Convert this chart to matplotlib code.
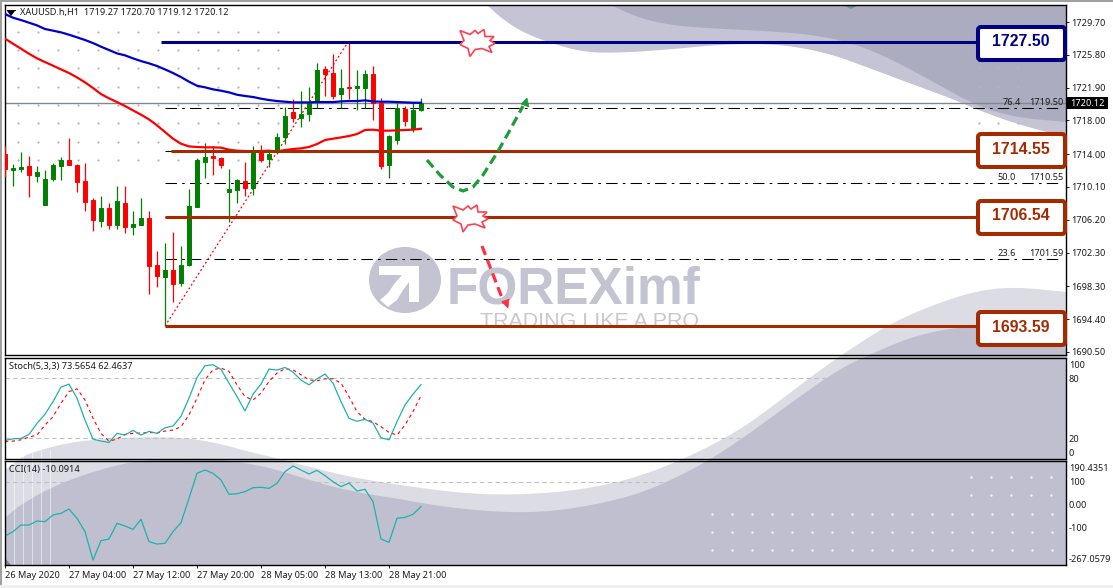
import numpy as np
import matplotlib
matplotlib.use("Agg")
import matplotlib.pyplot as plt
from matplotlib.patches import Rectangle, Ellipse, Polygon, FancyBboxPatch

plt.rcParams['font.family'] = ['Noto Sans', 'DejaVu Sans']

# H1 candles, one value per bar
opens = [1714.02, 1712.11, 1712.23, 1712.59, 1711.40, 1708.00, 1711.00, 1712.59, 1713.30, 1712.67,
         1710.77, 1708.55, 1706.09, 1707.60, 1705.62, 1708.15, 1705.38, 1705.62, 1706.37, 1700.79,
         1699.44, 1700.23, 1698.73, 1700.83, 1707.76, 1713.10, 1713.78, 1713.54, 1709.54, 1709.74,
         1710.77, 1710.01, 1714.09, 1713.46, 1714.41, 1716.07, 1719.00, 1718.33, 1718.77, 1720.19,
         1724.07, 1723.64, 1721.14, 1721.94, 1721.86, 1721.86, 1723.52, 1720.03, 1712.71, 1715.68,
         1719.36, 1717.01, 1719.27]
highs = [1714.96, 1712.83, 1714.21, 1713.78, 1712.59, 1712.11, 1712.91, 1713.62, 1715.92, 1712.83,
         1712.95, 1708.75, 1709.02, 1708.15, 1710.21, 1710.21, 1707.24, 1708.75, 1707.24, 1702.49,
         1703.40, 1704.75, 1703.08, 1709.82, 1713.50, 1715.28, 1714.96, 1713.70, 1712.19, 1711.00,
         1713.02, 1714.96, 1715.08, 1714.49, 1716.55, 1719.56, 1720.51, 1721.50, 1721.97, 1724.86,
         1724.47, 1725.90, 1724.07, 1727.50, 1723.99, 1723.99, 1724.47, 1720.63, 1716.27, 1720.03,
         1719.72, 1720.03, 1720.70]
lows = [1711.32, 1710.21, 1711.92, 1708.95, 1710.69, 1708.00, 1710.85, 1710.93, 1712.75, 1709.50,
        1707.24, 1704.91, 1705.30, 1705.14, 1705.14, 1704.67, 1704.43, 1705.62, 1697.38, 1698.25,
        1693.59, 1696.47, 1698.33, 1700.75, 1707.76, 1711.20, 1711.52, 1712.31, 1705.98, 1708.23,
        1709.07, 1709.18, 1713.02, 1712.51, 1714.02, 1715.20, 1717.82, 1717.26, 1717.94, 1719.44,
        1720.91, 1720.55, 1719.44, 1720.55, 1719.24, 1719.44, 1718.05, 1712.27, 1711.16, 1715.20,
        1717.34, 1716.67, 1719.12]
closes = [1712.27, 1712.35, 1712.47, 1711.56, 1711.87, 1711.00, 1712.67, 1713.30, 1712.75, 1710.69,
          1708.35, 1706.17, 1707.60, 1705.62, 1708.39, 1705.38, 1705.70, 1706.37, 1700.75, 1699.56,
          1700.23, 1698.61, 1700.79, 1707.84, 1713.30, 1713.62, 1713.58, 1712.71, 1709.82, 1710.93,
          1710.01, 1714.09, 1713.30, 1714.02, 1716.07, 1718.53, 1718.29, 1718.77, 1720.03, 1724.03,
          1723.52, 1720.91, 1721.86, 1721.90, 1722.09, 1723.52, 1720.03, 1712.63, 1716.15, 1719.48,
          1717.94, 1719.24, 1720.12]

ma_blue = [1730.65, 1730.21, 1729.93, 1729.62, 1729.30, 1728.87, 1728.67, 1728.47, 1728.19, 1727.88,
           1727.56, 1727.20, 1726.77, 1726.37, 1725.97, 1725.74, 1725.38, 1725.06, 1724.79, 1724.47,
           1724.07, 1723.64, 1723.16, 1722.61, 1722.13, 1721.94, 1721.70, 1721.54, 1721.34, 1721.06,
           1720.91, 1720.79, 1720.59, 1720.43, 1720.31, 1720.23, 1720.15, 1720.15, 1720.15, 1720.19,
           1720.19, 1720.19, 1720.27, 1720.31, 1720.31, 1720.39, 1720.27, 1720.23, 1720.23, 1720.19,
           1720.15, 1720.11, 1720.11]
ma_red = [1727.72, 1727.12, 1726.53, 1725.93, 1725.38, 1724.94, 1724.51, 1724.07, 1723.64, 1723.12,
          1722.53, 1721.86, 1721.14, 1720.63, 1720.19, 1719.72, 1719.20, 1718.69, 1718.13, 1717.42,
          1716.63, 1715.84, 1715.24, 1714.92, 1714.85, 1714.81, 1714.81, 1714.77, 1714.53, 1714.41,
          1714.37, 1714.33, 1714.37, 1714.41, 1714.33, 1714.49, 1714.61, 1714.69, 1714.85, 1715.20,
          1715.68, 1715.84, 1715.99, 1716.15, 1716.39, 1716.87, 1716.91, 1716.79, 1716.79, 1716.83,
          1716.87, 1716.91, 1717.02]

stoch_main = [18.0, 19.6, 20.0, 24.0, 35.0, 44.0, 56.6, 71.0, 74.0, 60.0, 38.3, 19.3, 17.3, 16.0, 25.0,
              23.3, 28.0, 23.3, 27.0, 25.0, 30.6, 32.3, 42.0, 60.0, 80.6, 92.3, 93.3, 88.6, 75.0, 61.6,
              47.3, 64.0, 74.0, 89.0, 88.0, 90.6, 86.0, 78.0, 73.3, 79.3, 84.0, 75.0, 56.6, 40.0, 37.0,
              39.0, 35.3, 20.6, 18.6, 36.6, 53.3, 64.0, 73.57]
stoch_signal = [17.0, 17.3, 18.6, 21.3, 23.3, 33.3, 41.6, 55.0, 66.6, 69.3, 58.3, 40.0, 25.0, 17.3, 19.3,
                24.0, 25.0, 25.3, 26.0, 25.3, 27.3, 28.3, 31.6, 43.3, 60.0, 78.3, 88.3, 90.0, 86.6, 73.3,
                61.6, 58.3, 65.0, 76.6, 85.0, 89.3, 88.3, 83.3, 78.3, 77.3, 79.3, 79.3, 75.0, 61.6, 46.6,
                39.0, 36.6, 31.6, 26.0, 23.3, 33.3, 46.6, 62.46]
cci = [-139.5, -120.4, -91.1, -91.1, -73.5, -76.5, -47.1, -39.8, -20.7, -61.8, -120.4, -245.1, -160.0,
       -152.7, -83.8, -95.5, -110.2, -66.2, -164.4, -174.7, -171.8, -120.4, -80.9, 26.2, 136.2, 150.9,
       136.2, 106.9, 43.8, 46.7, 55.5, 73.1, 74.6, 70.2, 92.2, 143.5, 168.4, 150.9, 133.3, 149.4, 125.9,
       99.5, 77.5, 93.7, 58.5, 65.8, 11.5, -152.7, -167.4, -61.8, -57.4, -44.2, -10.09]

tick_bars = [0, 8, 16, 24, 32, 40, 48]
tick_labels = ['26 May 2020', '27 May 04:00', '27 May 12:00', '27 May 20:00',
               '28 May 05:00', '28 May 13:00', '28 May 21:00']
price_ticks = [1729.70, 1725.80, 1721.90, 1718.00, 1714.00, 1710.10, 1706.20, 1702.30, 1698.30, 1694.40, 1690.50]

level_values = [1727.29, 1714.37, 1706.52, 1693.59]
level_labels = ['1727.50', '1714.55', '1706.54', '1693.59']
fibo_values = [1719.44, 1714.37, 1710.53, 1706.52, 1701.50]
fibo_pct = ['76.4', '50.0', '23.6']
fibo_prices = ['1719.50', '1710.55', '1701.59']
last_price = 1720.12

stoch_tick_pos = [94, 80, 20, 6]
stoch_tick_labels = ['100', '80', '20', '0']
cci_tick_pos = [161, 100, 0, -100, -240]
cci_tick_labels = ['190.4351', '100', '0.00', '-100', '-267.0579']

W, H = 1113, 588
NAVY = '#000080'
BROWN = '#a52a00'
TXT = '#1a1a1a'
FS = 6.6


def px_axes(left, top, right, bottom, **kw):
    return fig.add_axes([left / W, 1 - bottom / H, (right - left) / W, (bottom - top) / H], **kw)


def rounded(pts, rounds=3):
    # cut corners so the swoosh edges do not look like polylines
    pts = np.array(pts, dtype=float)
    for _ in range(rounds):
        q = 0.75 * pts[:-1] + 0.25 * pts[1:]
        r = 0.25 * pts[:-1] + 0.75 * pts[1:]
        mid = np.empty((2 * len(q), 2))
        mid[0::2] = q
        mid[1::2] = r
        pts = np.vstack([pts[0], mid, pts[-1]])
    return [tuple(p) for p in pts]


fig = plt.figure(figsize=(W / 100, H / 100), dpi=100, facecolor='white')

# background swooshes and logo, in pixels
bg = px_axes(0, 0, W, H, zorder=0)
bg.set_xlim(0, W)
bg.set_ylim(H, 0)
bg.axis('off')
clip = Rectangle((5, 5), 1061, 560, transform=bg.transData)

light_edge = [(5, 470), (20, 458), (33, 452), (67, 443), (100, 439), (150, 437), (187, 438), (217, 443),
              (250, 452), (280, 459), (333, 473), (367, 480), (420, 488), (462, 493), (504, 495), (567, 492),
              (630, 480), (689, 457), (740, 430), (778, 402), (820, 370), (849, 350), (891, 323), (938, 303),
              (980, 290), (1018, 287), (1066, 292)]
dark_edge = [(5, 518), (20, 505), (50, 488), (83, 475), (117, 465), (140, 461), (200, 458), (233, 461),
             (267, 467), (300, 477), (333, 487), (367, 494), (400, 499), (420, 503), (462, 509), (517, 513),
             (567, 510), (630, 497), (672, 480), (715, 457), (757, 428), (799, 397), (841, 368), (875, 352),
             (917, 335), (959, 327), (1009, 325), (1066, 327)]
top_mid = [(485, 3), (501, 18), (522, 32), (550, 43), (583, 52), (615, 53), (664, 50), (726, 44), (779, 44),
           (828, 53), (869, 68), (909, 83), (950, 98), (983, 112), (1020, 125), (1066, 137)]
top_dark = [(607, 3), (636, 17), (669, 25), (705, 28), (767, 31), (815, 35), (852, 43), (889, 58), (930, 80),
            (971, 103), (1011, 117), (1066, 122)]
bottom = [(1066, 565), (5, 565)]
corner = [(1066, 3)]
for pts, col in [(rounded(light_edge) + bottom, '#dcdce5'), (rounded(dark_edge) + bottom, '#bfbfcf'),
                 (rounded(top_mid) + corner, '#c4c4d4'), (rounded(top_dark) + corner, '#acacc0')]:
    p = Polygon(pts, closed=True, fc=col, ec='none')
    bg.add_patch(p)
    p.set_clip_path(clip)
bg.add_patch(Polygon([(843, 5), (851, 9), (859, 5)], fc='#7a8f99', ec='none'))
bg.add_patch(Polygon([(5, 558), (5, 565), (11, 565)], fc='#7f8590', ec='none'))

# window frame
bg.add_patch(Rectangle((0, 0), W, 1.5, fc='#a0a0a0', ec='none'))
bg.add_patch(Rectangle((0, 0), 1.5, H, fc='#a0a0a0', ec='none'))
bg.add_patch(Rectangle((0, 585), W, 3, fc='#f0f0f0', ec='none'))

# grid of small dots from the template
dot_x = [18 + 20 * k for k in range(14)] + [979, 998, 1018]
dot_y = [32, 50, 68, 87, 105, 123, 142, 160]
xx, yy = np.meshgrid(dot_x, dot_y)
bg.scatter(xx.ravel(), yy.ravel(), s=2.5, c='#b4b4bc', linewidths=0)
xx, yy = np.meshgrid([712 + 20 * k for k in range(18)], [514, 532, 550])
bg.scatter(xx.ravel(), yy.ravel(), s=3, c='#f4f4f8', linewidths=0)
xx, yy = np.meshgrid([971, 991, 1011, 1031, 1051], [477, 495])
bg.scatter(xx.ravel(), yy.ravel(), s=3, c='#f4f4f8', linewidths=0)
bg.vlines([14, 23, 32, 41, 50], 450, 565, colors='white', lw=0.72, alpha=0.5)

# watermark
LOGO = '#c3c3d2'
bg.add_patch(Ellipse((405, 280), 72, 66, fc=LOGO, ec='none'))
bg.add_patch(Polygon([(379, 266), (419, 266), (419, 302), (409, 302), (409, 282), (403, 290), (397, 300),
                      (388, 307), (380, 300), (388, 293), (395, 283), (402, 275), (379, 275)],
                     fc='white', ec='none'))
bg.text(447, 303, 'FOREXimf', family='Liberation Sans', weight='bold', fontsize=37, color=LOGO, va='baseline')
bg.text(480, 327, 'TRADING LIKE A PRO', family='Liberation Sans', fontsize=15.4, color='#c8c8d4', va='baseline')

# price panel
ax = px_axes(5, 5, 1066, 355, zorder=1)
ax.patch.set_alpha(0)
ax.set_xlim(0, 132.625)
ax.set_ylim(1690.14, 1731.72)
bars = np.arange(len(closes))
colors = ['#008000' if c >= o else '#ff0000' for o, c in zip(opens, closes)]
ax.axhline(last_price, color='#808890', lw=1.0, zorder=1)
ax.hlines(fibo_values, 20, 132, colors='black', lw=0.75, linestyles=(0, (11, 5, 2.5, 5)), zorder=1.5)
ax.plot([20, 43], [1693.59, 1727.50], color='#ff0000', lw=0.9, ls=(0, (1.5, 2)), zorder=2)
ax.vlines(bars, lows, highs, colors=colors, lw=0.9, zorder=3)
ax.bar(bars, np.array(closes) - np.array(opens), bottom=opens, width=0.55,
       color=colors, edgecolor=colors, lw=0.7, zorder=3)
ax.plot(bars, ma_blue, color='#0000cd', lw=1.6, zorder=4)
ax.plot(bars, ma_red, color='#ff0000', lw=1.6, zorder=4)
ax.hlines(level_values[0], 19.5, 132, colors=NAVY, lw=2.2, zorder=5)
ax.hlines(level_values[1:], [20.75, 20, 20], 132, colors=BROWN, lw=2.2, zorder=5)
ax.set_yticks(price_ticks, [f'{v:.2f}' for v in price_ticks])
ax.set_xticks([])
ax.yaxis.tick_right()
for i, (pct, lab) in enumerate(zip(fibo_pct, fibo_prices)):
    y = fibo_values[[0, 2, 4][i]]
    ax.annotate(pct, (1021 if i == 0 else 1016, y), xycoords=('figure pixels', 'data'), ha='right', va='bottom',
                fontsize=FS, color=TXT, xytext=(0, 1), textcoords='offset points', zorder=6)
    ax.annotate(lab, (1063, y), xycoords=('figure pixels', 'data'), ha='right', va='bottom',
                fontsize=FS, color=TXT, xytext=(0, 1), textcoords='offset points', zorder=6)

# stochastic panel
ax2 = px_axes(5, 358, 1066, 458.5, zorder=1)
ax2.patch.set_alpha(0)
ax2.set_xlim(0, 132.625)
ax2.set_ylim(0, 100)
ax2.hlines([80, 20], 0, 132.625, colors='#c0c0c0', lw=0.8, linestyles=(0, (4, 3)))
ax2.plot(bars, stoch_signal, color='#ff0000', lw=0.8, ls=(0, (3, 3)))
ax2.plot(bars, stoch_main, color='#20b2aa', lw=0.9)
ax2.set_yticks(stoch_tick_pos, stoch_tick_labels)
ax2.set_xticks([])
ax2.yaxis.tick_right()

# CCI panel
ax3 = px_axes(5, 461, 1066, 565, zorder=1)
ax3.patch.set_alpha(0)
ax3.set_xlim(0, 132.625)
ax3.set_ylim(-267.0579, 190.4351)
ax3.hlines(100, 0, 132.625, colors='#c0c0c0', lw=0.8, linestyles=(0, (4, 3)))
ax3.plot(bars, cci, color='#20b2aa', lw=0.9)
ax3.set_yticks(cci_tick_pos, cci_tick_labels)
ax3.yaxis.tick_right()
ax3.set_xticks(tick_bars, tick_labels)
for lbl in ax3.get_xticklabels():
    lbl.set_ha('left')

for a in (ax, ax2, ax3):
    for s in a.spines.values():
        s.set_linewidth(1.0)
        s.set_color('black')
    a.tick_params(axis='both', labelsize=FS, length=2.2, width=0.7, pad=1.8, colors=TXT)
ax2.tick_params(axis='y', length=0, pad=2)
ax3.tick_params(axis='y', length=0, pad=2)

# overlay: boxes, arrows, stars, captions
ov = px_axes(0, 0, W, H, zorder=3)
ov.patch.set_alpha(0)
ov.set_xlim(0, W)
ov.set_ylim(H, 0)
ov.axis('off')

box_tops = [27, 134, 201, 312]
box_cols = [NAVY, BROWN, BROWN, BROWN]
for top, lab, col in zip(box_tops, level_labels, box_cols):
    ov.add_patch(FancyBboxPatch((978, top), 87, 33, boxstyle='round,pad=0,rounding_size=3',
                                fc='white', ec=col, lw=2.9))
    ov.text(1021, top + 15, lab, family='Liberation Sans', weight='bold', fontsize=11.4, color=col,
            ha='center', va='center')

GREEN = '#1f9c3a'
RED = '#ff3040'
green_x = [427, 440, 453, 463, 473, 483, 497, 510, 523]
green_y = [160, 175, 187, 191, 187, 175, 153, 130, 106]
ov.plot(green_x, green_y, color=GREEN, lw=2.3, ls=(0, (3, 1.6)))
ov.add_patch(Polygon([(527, 98), (521, 104), (529, 107)], fc=GREEN, ec=GREEN, lw=0.5))
ov.plot([482, 504], [246, 303], color=RED, lw=2.3, ls=(0, (3, 1.6)))
ov.add_patch(Polygon([(508, 308), (502, 302), (509, 299)], fc=RED, ec=RED, lw=0.5))

star = np.array([(-17, -11), (-7, -7), (-2, -11), (1, -8), (7, -12), (8, -5), (17, -5), (13, -1), (18, 2),
                 (12, 5), (15, 11), (5, 7), (-2, 8), (-7, 15), (-9, 7), (-17, 3), (-13, -1)])
for cx, cy in [(477, 41.5), (470, 217)]:
    ov.add_patch(Polygon(star + (cx, cy), fc='white', ec='#ff4050', lw=1.2))

ov.add_patch(Rectangle((1067, 97), 41, 12, fc='black', ec='none'))
ov.text(1087.5, 103, f'{last_price:.2f}', color='white', fontsize=FS, ha='center', va='center')

ov.add_patch(Polygon([(7, 11), (15, 11), (11, 16)], fc='black', ec='none'))
ov.plot([7, 15], [10, 10], color='black', lw=0.7)
ov.text(20, 12.5, 'XAUUSD.h,H1  1719.27 1720.70 1719.12 1720.12', fontsize=FS, color=TXT, va='center')
ov.text(9, 366.5, 'Stoch(5,3,3) 73.5654 62.4637', fontsize=FS, color=TXT, va='center')
ov.text(9, 469.5, 'CCI(14) -10.0914', fontsize=FS, color=TXT, va='center')

fig.savefig('out.png', dpi=100)
